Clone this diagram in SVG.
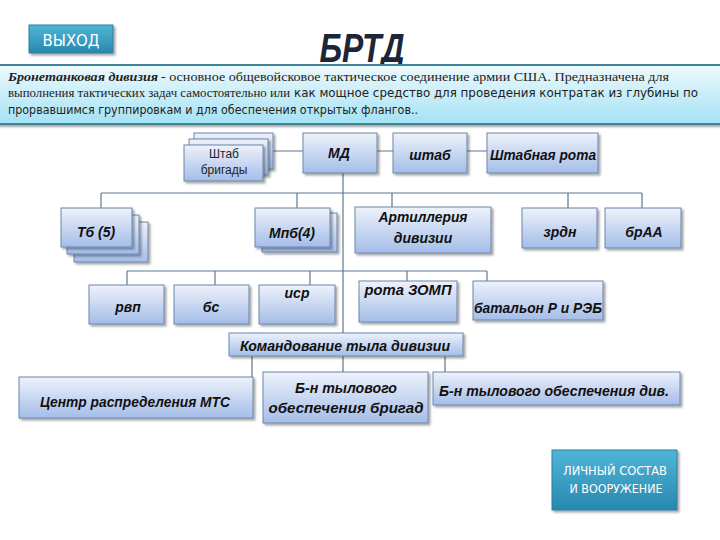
<svg xmlns="http://www.w3.org/2000/svg" width="720" height="540" viewBox="0 0 720 540">
<defs>
<linearGradient id="boxGrad" x1="0" y1="0" x2="0" y2="1">
<stop offset="0" stop-color="#eef2fb"/>
<stop offset="1" stop-color="#a4bde8"/>
</linearGradient>
<linearGradient id="banGrad" x1="0" y1="0" x2="0" y2="1">
<stop offset="0" stop-color="#eef9fc"/>
<stop offset="1" stop-color="#a4e2f5"/>
</linearGradient>
<linearGradient id="btnGrad" x1="0" y1="0" x2="0" y2="1">
<stop offset="0" stop-color="#4fb6d8"/>
<stop offset="1" stop-color="#2887ad"/>
</linearGradient>
<filter id="sh" x="-10%" y="-10%" width="130%" height="140%">
<feDropShadow dx="2" dy="2" stdDeviation="1.2" flood-color="#000" flood-opacity="0.35"/>
</filter>
</defs>
<style>
.box{fill:url(#boxGrad);stroke:#6b85aa;stroke-width:1;filter:url(#sh)}
.lbl{font-family:"Liberation Sans",Arial,sans-serif;font-weight:bold;font-style:italic;font-size:14px;fill:#111;text-anchor:middle}
.reg{font-family:"Liberation Sans",Arial,sans-serif;font-size:12px;fill:#222;text-anchor:middle}
.conn{stroke:#5b7890;stroke-width:1.2;fill:none}
.btn{fill:url(#btnGrad);stroke:#2a7fa0;stroke-width:1;filter:url(#sh)}
.btxt{font-family:"DejaVu Sans",Verdana,sans-serif;fill:#fff;text-anchor:middle}
.serif{font-family:"Liberation Serif","Times New Roman",serif;font-size:13px;fill:#222}
.sans{font-family:"DejaVu Sans",Verdana,sans-serif;font-size:12px;fill:#222}
</style>
<rect width="720" height="540" fill="#fff"/>

<g id="exit">
<rect class="btn" x="29" y="25" width="84" height="28"/>
<text class="btxt" x="71" y="46" font-size="15" textLength="57" lengthAdjust="spacingAndGlyphs">ВЫХОД</text>
</g>

<text x="362" y="62" font-family="'Liberation Sans',Arial,sans-serif" font-weight="bold" font-style="italic" font-size="40" fill="#1b2638" text-anchor="middle" textLength="85" lengthAdjust="spacingAndGlyphs">БРТД</text>

<g id="banner">
<rect x="-2" y="65" width="724" height="59" fill="url(#banGrad)" stroke="#3f8597" stroke-width="2" filter="url(#sh)"/>
<text class="serif" x="8" y="81" font-weight="bold" font-style="italic" textLength="150" lengthAdjust="spacingAndGlyphs">Бронетанковая  дивизия</text>
<text class="serif" x="161" y="81" textLength="508" lengthAdjust="spacingAndGlyphs">- основное общевойсковое тактическое соединение армии США. Предназначена для</text>
<text class="serif" x="8" y="97" textLength="282" lengthAdjust="spacingAndGlyphs">выполнения тактических задач самостоятельно или</text>
<text class="sans" x="294" y="97" textLength="404" lengthAdjust="spacingAndGlyphs">как мощное средство для проведения контратак из глубины по</text>
<text class="sans" x="8" y="114" textLength="410" lengthAdjust="spacingAndGlyphs">прорвавшимся группировкам и для обеспечения открытых флангов..</text>
</g>

<g id="connectors">
<path class="conn" d="M273 151H303M377 151H393M467 151H487"/>
<path class="conn" d="M343 173V333M343 356V372"/>
<path class="conn" d="M101 193H642M101 193V208M297 193V208M392 193V207M568 193V208M642 193V208"/>
<path class="conn" d="M127 271H487M127 271V285M215 271V285M310 271V285M407 271V281M487 271V281"/>
<path class="conn" d="M252 356V377M445 356V372"/>
</g>

<g id="shtab-brigady">
<rect class="box" x="194" y="133" width="79" height="36"/>
<rect class="box" x="189" y="139" width="79" height="36"/>
<rect class="box" x="184" y="145" width="79" height="36"/>
<text class="reg" x="224" y="158">Штаб</text>
<text class="reg" x="224" y="174">бригады</text>
</g>

<g id="md">
<rect class="box" x="303" y="133" width="74" height="40"/>
<text class="lbl" x="339" y="158">МД</text>
</g>

<g id="shtab">
<rect class="box" x="393" y="133" width="74" height="40"/>
<text class="lbl" x="430" y="160">штаб</text>
</g>

<g id="shtabnaya-rota">
<rect class="box" x="487" y="133" width="111" height="40"/>
<text class="lbl" x="543" y="160" textLength="106" lengthAdjust="spacingAndGlyphs">Штабная рота</text>
</g>

<g id="tb">
<rect class="box" x="74" y="222" width="74" height="40"/>
<rect class="box" x="67" y="215" width="72" height="39"/>
<rect class="box" x="61" y="208" width="71" height="39"/>
<text class="lbl" x="96" y="237">Тб (5)</text>
</g>

<g id="mpb">
<rect class="box" x="262" y="213" width="75" height="39"/>
<rect class="box" x="255" y="208" width="75" height="39"/>
<text class="lbl" x="292" y="238">Мпб(4)</text>
</g>

<g id="artilleriya">
<rect class="box" x="355" y="207" width="136" height="46"/>
<text class="lbl" x="423" y="222" textLength="89" lengthAdjust="spacingAndGlyphs">Артиллерия</text>
<text class="lbl" x="423" y="243">дивизии</text>
</g>

<g id="zrdn">
<rect class="box" x="522" y="208" width="75" height="40"/>
<text class="lbl" x="560" y="237">зрдн</text>
</g>

<g id="braa">
<rect class="box" x="605" y="208" width="76" height="40"/>
<text class="lbl" x="644" y="237">брАА</text>
</g>

<g id="rvp">
<rect class="box" x="89" y="285" width="75" height="39"/>
<text class="lbl" x="128" y="312">рвп</text>
</g>

<g id="bs">
<rect class="box" x="174" y="285" width="75" height="39"/>
<text class="lbl" x="211" y="312">бс</text>
</g>

<g id="isr">
<rect class="box" x="259" y="285" width="76" height="39"/>
<text class="lbl" x="297" y="298">иср</text>
</g>

<g id="rota-zomp">
<rect class="box" x="359" y="281" width="98" height="41"/>
<text class="lbl" x="408" y="295" textLength="87" lengthAdjust="spacingAndGlyphs">рота  ЗОМП</text>
</g>

<g id="batalon-r-reb">
<rect class="box" x="473" y="281" width="130" height="39"/>
<text class="lbl" x="538" y="313" textLength="128" lengthAdjust="spacingAndGlyphs">батальон Р и РЭБ</text>
</g>

<g id="komandovanie">
<rect class="box" x="229" y="333" width="234" height="23"/>
<text class="lbl" x="345" y="351" textLength="210" lengthAdjust="spacingAndGlyphs">Командование тыла дивизии</text>
</g>

<g id="centr-mts">
<rect class="box" x="19" y="377" width="234" height="41"/>
<text class="lbl" x="135" y="407" textLength="190" lengthAdjust="spacingAndGlyphs">Центр распределения МТС</text>
</g>

<g id="bn-brigad">
<rect class="box" x="263" y="372" width="165" height="51"/>
<text class="lbl" x="346" y="393" textLength="102" lengthAdjust="spacingAndGlyphs">Б-н тылового</text>
<text class="lbl" x="346" y="413" textLength="155" lengthAdjust="spacingAndGlyphs">обеспечения бригад</text>
</g>

<g id="bn-div">
<rect class="box" x="433" y="372" width="247" height="33"/>
<text class="lbl" x="554" y="396" textLength="230" lengthAdjust="spacingAndGlyphs">Б-н тылового обеспечения див.</text>
</g>

<g id="lichny-sostav">
<rect class="btn" x="552" y="450" width="125" height="60"/>
<text class="btxt" x="615" y="475" font-size="12" textLength="104" lengthAdjust="spacingAndGlyphs">ЛИЧНЫЙ СОСТАВ</text>
<text class="btxt" x="616" y="493" font-size="12" textLength="93" lengthAdjust="spacingAndGlyphs">И ВООРУЖЕНИЕ</text>
</g>
</svg>
